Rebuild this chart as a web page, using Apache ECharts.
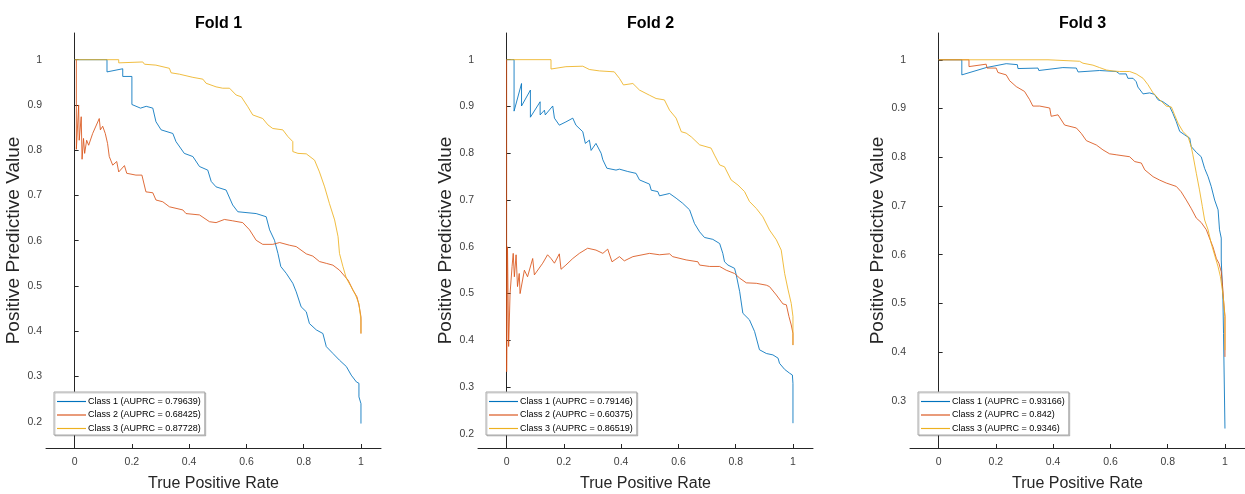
<!DOCTYPE html>
<html>
<head>
<meta charset="utf-8">
<script src="https://cdn.jsdelivr.net/npm/echarts@6/dist/echarts.min.js"></script>
<style>
  html, body { margin: 0; padding: 0; background: #fff; }
  #chart { width: 1245px; height: 494px; }
</style>
</head>
<body>
<div id="chart"></div>
<script>
// ------------------------------
// Data (x = recall, y = precision)
// ------------------------------
var foldTitles = ['Fold 1', 'Fold 2', 'Fold 3'];
var xTicks = [0, 0.2, 0.4, 0.6, 0.8, 1];
var yTicks12 = [0.2, 0.3, 0.4, 0.5, 0.6, 0.7, 0.8, 0.9, 1];
var yTicks3 = [0.3, 0.4, 0.5, 0.6, 0.7, 0.8, 0.9, 1];
var legendNames = [
    ['Class 1 (AUPRC = 0.79639)', 'Class 2 (AUPRC = 0.68425)', 'Class 3 (AUPRC = 0.87728)'],
    ['Class 1 (AUPRC = 0.79146)', 'Class 2 (AUPRC = 0.60375)', 'Class 3 (AUPRC = 0.86519)'],
    ['Class 1 (AUPRC = 0.93166)', 'Class 2 (AUPRC = 0.842)', 'Class 3 (AUPRC = 0.9346)']
];

var fold1Class1 = [[0,1],[0.113,1],[0.113,0.973],[0.168,0.98],[0.168,0.963],[0.2,0.963],[0.2,0.901],
    [0.23,0.893],[0.25,0.897],[0.273,0.893],[0.284,0.863],[0.302,0.845],[0.343,0.837],[0.354,0.819],
    [0.383,0.793],[0.413,0.786],[0.436,0.764],[0.465,0.756],[0.477,0.731],[0.494,0.719],[0.529,0.712],
    [0.552,0.679],[0.57,0.664],[0.634,0.66],[0.669,0.653],[0.681,0.624],[0.698,0.601],[0.71,0.572],
    [0.72,0.543],[0.739,0.528],[0.762,0.506],[0.774,0.487],[0.791,0.454],[0.809,0.443],[0.82,0.417],
    [0.844,0.403],[0.867,0.395],[0.879,0.366],[0.902,0.351],[0.925,0.336],[0.949,0.322],[0.966,0.303],
    [0.984,0.288],[0.993,0.285],[0.993,0.255],[1,0.24],[1,0.196]];
var fold1Class2 = [[0.006,1],[0.006,0.802],[0.014,0.9],[0.016,0.822],[0.023,0.874],[0.026,0.78],
    [0.031,0.826],[0.035,0.793],[0.042,0.822],[0.049,0.811],[0.063,0.837],[0.086,0.87],[0.09,0.845],
    [0.098,0.853],[0.107,0.837],[0.115,0.815],[0.121,0.786],[0.133,0.767],[0.147,0.775],[0.154,0.752],
    [0.174,0.766],[0.182,0.749],[0.214,0.745],[0.235,0.745],[0.249,0.708],[0.273,0.706],[0.284,0.69],
    [0.308,0.686],[0.331,0.675],[0.378,0.668],[0.389,0.66],[0.436,0.657],[0.471,0.642],[0.494,0.64],
    [0.523,0.647],[0.552,0.644],[0.587,0.64],[0.611,0.624],[0.634,0.601],[0.657,0.592],[0.692,0.592],
    [0.716,0.596],[0.751,0.59],[0.774,0.587],[0.809,0.571],[0.832,0.566],[0.855,0.554],[0.879,0.55],
    [0.902,0.546],[0.925,0.535],[0.955,0.513],[0.972,0.491],[0.986,0.476],[0.993,0.458],[1,0.432],[1,0.395]];
var fold1Class3 = [[0,1],[0.154,1],[0.154,0.993],[0.238,0.995],[0.244,0.99],[0.284,0.988],[0.331,0.981],
    [0.337,0.971],[0.366,0.968],[0.372,0.964],[0.413,0.961],[0.448,0.957],[0.459,0.948],[0.494,0.94],
    [0.517,0.937],[0.541,0.937],[0.564,0.922],[0.582,0.918],[0.605,0.896],[0.622,0.878],[0.657,0.87],
    [0.675,0.856],[0.692,0.848],[0.727,0.845],[0.745,0.83],[0.762,0.819],[0.762,0.797],[0.78,0.793],
    [0.809,0.792],[0.838,0.778],[0.855,0.752],[0.873,0.719],[0.89,0.682],[0.908,0.646],[0.92,0.609],
    [0.925,0.572],[0.937,0.543],[0.949,0.517],[0.966,0.498],[0.981,0.48],[0.993,0.461],[1,0.425],[1,0.395]];

var fold2Class1 = [[0,1],[0.026,1],[0.026,0.89],[0.052,0.949],[0.052,0.901],[0.083,0.935],[0.083,0.877],
    [0.117,0.91],[0.117,0.882],[0.132,0.892],[0.135,0.882],[0.161,0.901],[0.167,0.875],[0.184,0.86],
    [0.207,0.867],[0.231,0.875],[0.242,0.86],[0.266,0.846],[0.275,0.821],[0.289,0.828],[0.295,0.806],
    [0.312,0.821],[0.33,0.8],[0.336,0.786],[0.35,0.768],[0.382,0.764],[0.394,0.766],[0.423,0.761],
    [0.452,0.757],[0.464,0.743],[0.499,0.734],[0.505,0.721],[0.528,0.718],[0.534,0.709],[0.569,0.714],
    [0.592,0.704],[0.615,0.693],[0.639,0.679],[0.656,0.65],[0.674,0.632],[0.691,0.62],[0.72,0.616],
    [0.744,0.607],[0.755,0.586],[0.761,0.568],[0.773,0.561],[0.796,0.554],[0.802,0.54],[0.814,0.504],
    [0.825,0.458],[0.848,0.444],[0.866,0.419],[0.883,0.38],[0.907,0.372],[0.93,0.369],[0.948,0.362],
    [0.953,0.351],[0.971,0.338],[0.988,0.33],[0.998,0.326],[1,0.308],[1,0.223]];
var fold2Class2 = [[0,1],[0,0.333],[0.003,0.6],[0.007,0.387],[0.009,0.383],[0.012,0.5],[0.019,0.558],
    [0.023,0.586],[0.027,0.536],[0.033,0.583],[0.038,0.515],[0.044,0.543],[0.047,0.5],[0.062,0.55],
    [0.073,0.536],[0.091,0.575],[0.097,0.54],[0.126,0.565],[0.143,0.583],[0.155,0.575],[0.167,0.565],
    [0.184,0.585],[0.19,0.552],[0.207,0.561],[0.231,0.575],[0.254,0.586],[0.283,0.597],[0.312,0.593],
    [0.336,0.586],[0.353,0.595],[0.368,0.568],[0.394,0.579],[0.411,0.57],[0.441,0.579],[0.499,0.586],
    [0.534,0.583],[0.569,0.585],[0.58,0.579],[0.627,0.572],[0.668,0.568],[0.674,0.561],[0.709,0.558],
    [0.744,0.558],[0.767,0.55],[0.796,0.543],[0.814,0.533],[0.837,0.523],[0.872,0.522],[0.907,0.518],
    [0.918,0.515],[0.942,0.497],[0.965,0.478],[0.977,0.476],[0.986,0.451],[0.994,0.433],[1,0.415],[1,0.39]];
var fold2Class3 = [[0,1],[0.155,1],[0.155,0.98],[0.207,0.985],[0.266,0.986],[0.289,0.979],[0.324,0.976],
    [0.376,0.974],[0.394,0.96],[0.408,0.946],[0.441,0.949],[0.464,0.935],[0.499,0.924],[0.522,0.917],
    [0.551,0.914],[0.569,0.892],[0.592,0.875],[0.61,0.846],[0.627,0.843],[0.645,0.835],[0.674,0.818],
    [0.714,0.811],[0.726,0.796],[0.744,0.775],[0.761,0.771],[0.784,0.743],[0.808,0.732],[0.831,0.718],
    [0.848,0.697],[0.872,0.682],[0.895,0.664],[0.918,0.636],[0.942,0.615],[0.959,0.593],[0.971,0.543],
    [0.983,0.508],[0.994,0.479],[1,0.451],[1,0.39]];

var fold3Class1 = [[0,1],[0.081,1],[0.081,0.969],[0.166,0.984],[0.236,0.992],[0.275,0.99],[0.277,0.982],
    [0.347,0.983],[0.35,0.978],[0.434,0.984],[0.481,0.983],[0.487,0.975],[0.562,0.978],[0.568,0.974],
    [0.62,0.976],[0.632,0.971],[0.655,0.971],[0.661,0.962],[0.679,0.962],[0.69,0.955],[0.696,0.944],
    [0.714,0.93],[0.737,0.932],[0.754,0.929],[0.766,0.918],[0.783,0.914],[0.807,0.904],[0.818,0.89],
    [0.83,0.873],[0.842,0.853],[0.859,0.846],[0.877,0.839],[0.882,0.822],[0.9,0.81],[0.917,0.801],
    [0.929,0.777],[0.941,0.76],[0.952,0.74],[0.964,0.712],[0.976,0.692],[0.981,0.651],[0.987,0.634],
    [0.987,0.589],[0.991,0.534],[0.993,0.507],[0.995,0.438],[1,0.435],[1,0.243]];
var fold3Class2 = [[0,1],[0.106,1],[0.106,0.986],[0.166,0.991],[0.169,0.983],[0.201,0.983],[0.207,0.974],
    [0.236,0.969],[0.248,0.957],[0.271,0.945],[0.3,0.935],[0.318,0.918],[0.329,0.905],[0.353,0.905],
    [0.388,0.901],[0.393,0.884],[0.417,0.887],[0.44,0.866],[0.481,0.86],[0.498,0.849],[0.516,0.834],
    [0.551,0.825],[0.574,0.815],[0.597,0.807],[0.62,0.805],[0.667,0.801],[0.685,0.791],[0.708,0.788],
    [0.72,0.774],[0.749,0.76],[0.772,0.753],[0.795,0.747],[0.83,0.74],[0.847,0.729],[0.865,0.712],
    [0.882,0.695],[0.9,0.675],[0.917,0.666],[0.935,0.651],[0.946,0.634],[0.958,0.616],[0.97,0.592],
    [0.979,0.582],[0.987,0.565],[0.993,0.527],[0.995,0.507],[1,0.473],[1,0.39]];
var fold3Class3 = [[0,1],[0.382,1],[0.382,0.997],[0.492,0.997],[0.504,0.993],[0.539,0.989],[0.562,0.984],
    [0.586,0.979],[0.609,0.977],[0.632,0.976],[0.667,0.976],[0.69,0.971],[0.714,0.962],[0.731,0.949],
    [0.749,0.932],[0.772,0.918],[0.795,0.905],[0.813,0.903],[0.824,0.887],[0.836,0.87],[0.853,0.853],
    [0.871,0.842],[0.882,0.822],[0.888,0.805],[0.9,0.767],[0.911,0.733],[0.921,0.699],[0.929,0.671],
    [0.941,0.651],[0.952,0.623],[0.964,0.599],[0.976,0.575],[0.984,0.555],[0.991,0.527],[0.995,0.507],
    [1,0.473],[1,0.404]];

var foldData = [
    [fold1Class1, fold1Class2, fold1Class3],
    [fold2Class1, fold2Class2, fold2Class3],
    [fold3Class1, fold3Class2, fold3Class3]
];
var yRanges = [[0.142, 1.059], [0.17, 1.057], [0.203, 1.055]];
var yTickSets = [yTicks12, yTicks12, yTicks3];

var classColors = ['#0072BD', '#D95319', '#EDB120'];
var gridLefts = [46, 478, 910];
var font = "'Liberation Sans', Arial, Helvetica, sans-serif";
var axisColor = '#262626';

var chart = echarts.init(document.getElementById('chart'));

var grids = [], xAxes = [], yAxes = [], titles = [], legends = [], series = [];
foldData.forEach(function (curves, f) {
    grids.push({ left: gridLefts[f], top: 33, width: 335, height: 415, outerBoundsMode: 'none' });

    titles.push({
        text: foldTitles[f],
        left: gridLefts[f] + 167.5,
        top: 11,
        textAlign: 'center',
        textStyle: { fontFamily: font, fontSize: 16, fontWeight: 'bold', color: '#000' }
    });

    xAxes.push({
        type: 'value', gridIndex: f, min: -0.1, max: 1.07,
        name: 'True Positive Rate', nameLocation: 'middle', nameGap: 28,
        nameTextStyle: { fontFamily: font, fontSize: 16, color: axisColor, verticalAlign: 'top' },
        axisLine: { lineStyle: { color: axisColor, width: 1 } },
        axisTick: { inside: true, length: 4, customValues: xTicks, lineStyle: { color: axisColor } },
        axisLabel: { customValues: xTicks, margin: 9, fontFamily: font, fontSize: 10.5, color: '#404040' },
        splitLine: { show: false }
    });

    yAxes.push({
        type: 'value', gridIndex: f, min: yRanges[f][0], max: yRanges[f][1],
        name: 'Positive Predictive Value', nameLocation: 'middle', nameGap: 21,
        nameTextStyle: { fontFamily: font, fontSize: 19, color: axisColor },
        axisLine: { lineStyle: { color: axisColor, width: 1 } },
        axisTick: { inside: true, length: 4, customValues: yTickSets[f], lineStyle: { color: axisColor } },
        axisLabel: { customValues: yTickSets[f], margin: 4, fontFamily: font, fontSize: 10.5, color: '#404040' },
        splitLine: { show: false }
    });

    legends.push({
        data: legendNames[f],
        orient: 'vertical',
        left: gridLefts[f] + 8,
        top: 392,
        icon: 'path://M0,0 H30 V1.2 H0 Z',
        itemWidth: 29,
        itemHeight: 10,
        itemGap: 4.5,
        padding: [5, 4, 2, 3],
        selectedMode: false,
        backgroundColor: '#fff',
        borderColor: '#a8a8a8',
        borderWidth: 1,
        shadowColor: 'rgba(0,0,0,0.18)',
        shadowOffsetX: 1,
        shadowOffsetY: 1,
        textStyle: { fontFamily: font, fontSize: 9, color: '#000', padding: [0, 0, 0, -3] }
    });

    curves.forEach(function (pts, c) {
        series.push({
            name: legendNames[f][c],
            type: 'line',
            xAxisIndex: f,
            yAxisIndex: f,
            data: pts,
            symbol: 'none',
            color: classColors[c],
            lineStyle: { width: 1, color: classColors[c], opacity: 0.85 },
            animation: false
        });
    });
});

var option = {
    backgroundColor: '#fff',
    animation: false,
    title: titles,
    grid: grids,
    xAxis: xAxes,
    yAxis: yAxes,
    legend: legends,
    series: series
};
chart.setOption(option);
</script>
</body>
</html>
